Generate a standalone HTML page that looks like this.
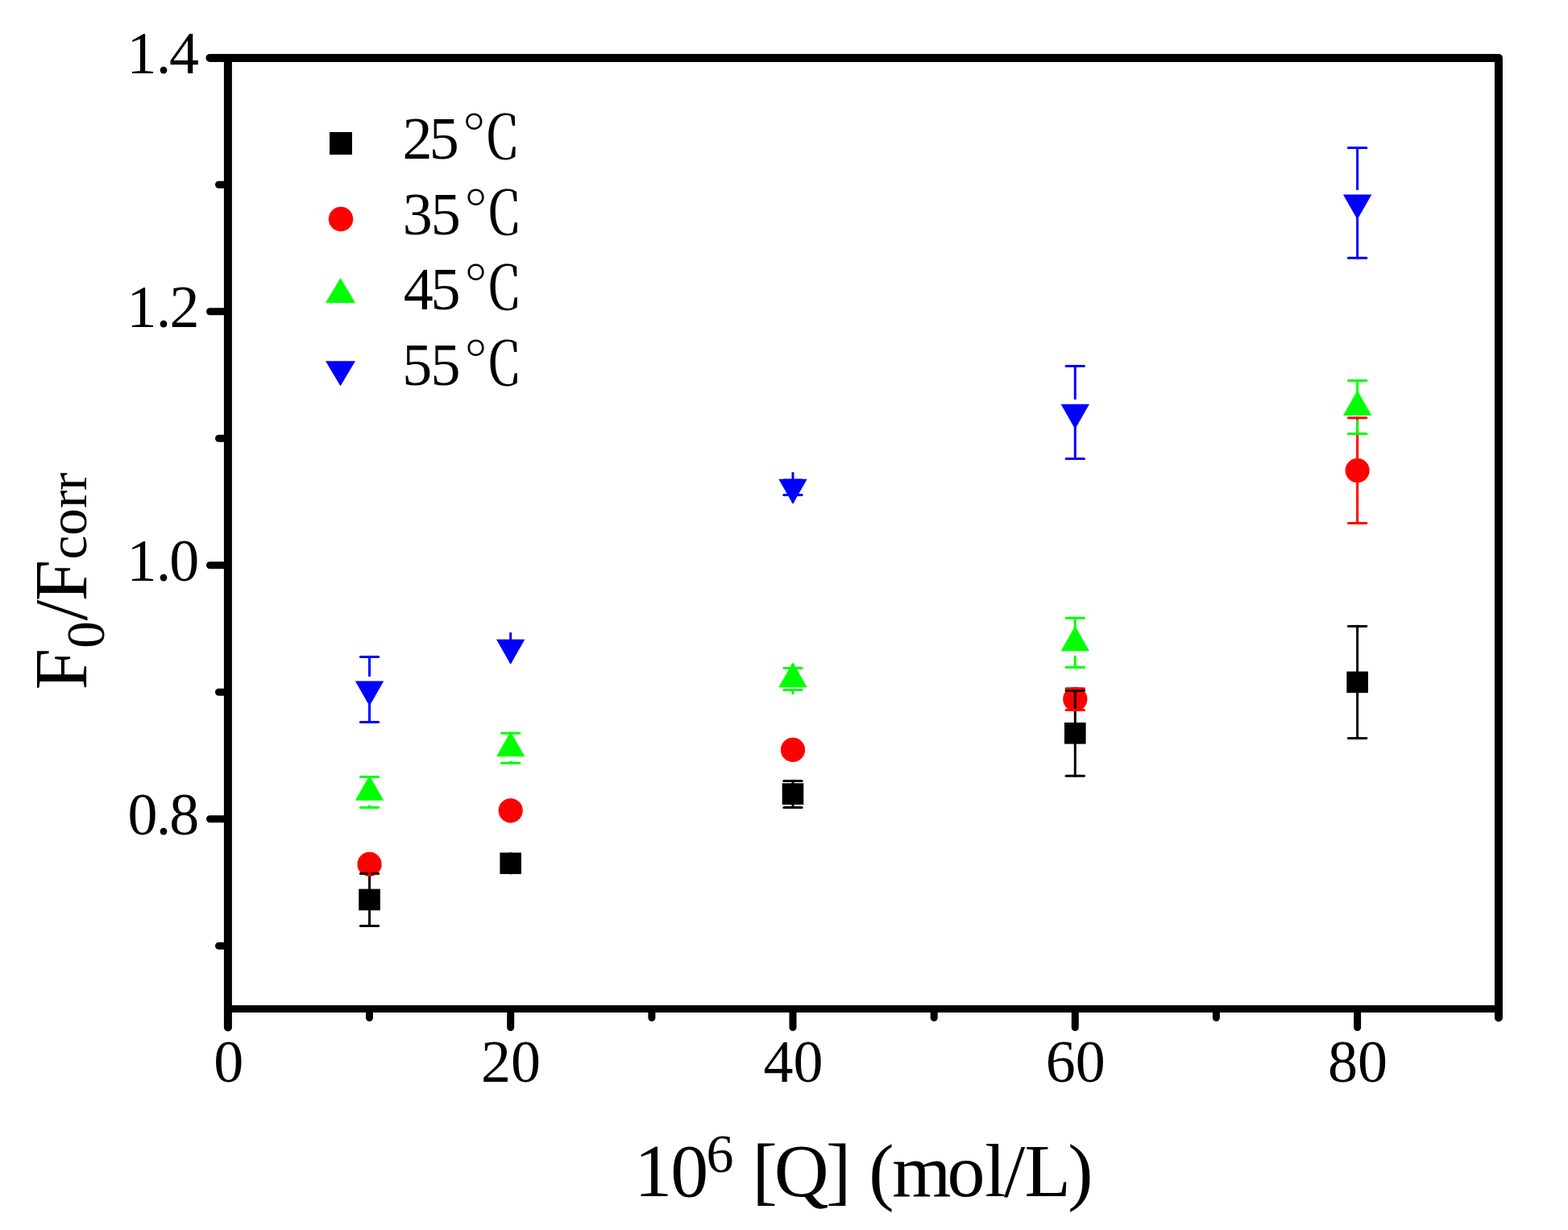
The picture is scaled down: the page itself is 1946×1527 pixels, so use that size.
<!DOCTYPE html><html><head><meta charset="utf-8"><title>F0/Fcorr vs [Q]</title><style>html,body{margin:0;padding:0;background:#fff;overflow:hidden;}svg{display:block;}</style></head><body>
<svg width="1946" height="1527" viewBox="0 0 1946 1527">
<rect x="0" y="0" width="1946" height="1527" fill="#fff"/>
<g stroke="#000" fill="none" stroke-linecap="round" stroke-linejoin="round">
<path d="M260.5 71.9 L1859.9 71.9 L1859.9 1263.5" stroke-width="10"/>
<path d="M282.9 71.9 L282.9 1275.5" stroke-width="10"/>
<line x1="282.9" y1="1252.5" x2="1859.9" y2="1252.5" stroke-width="9" stroke-linecap="butt"/>
</g>
<g stroke="#000" stroke-width="9" fill="none" stroke-linecap="round">
<line x1="278.9" y1="386.8" x2="260.5" y2="386.8"/>
<line x1="278.9" y1="701.7" x2="260.5" y2="701.7"/>
<line x1="278.9" y1="1016.7" x2="260.5" y2="1016.7"/>
<line x1="278.9" y1="229.3" x2="271.5" y2="229.3"/>
<line x1="278.9" y1="544.3" x2="271.5" y2="544.3"/>
<line x1="278.9" y1="859.2" x2="271.5" y2="859.2"/>
<line x1="278.9" y1="1174.2" x2="271.5" y2="1174.2"/>
<line x1="633.7" y1="1253.0" x2="633.7" y2="1275.5"/>
<line x1="984.0" y1="1253.0" x2="984.0" y2="1275.5"/>
<line x1="1334.3" y1="1253.0" x2="1334.3" y2="1275.5"/>
<line x1="1684.6" y1="1253.0" x2="1684.6" y2="1275.5"/>
<line x1="458.5" y1="1253.0" x2="458.5" y2="1263.5"/>
<line x1="808.9" y1="1253.0" x2="808.9" y2="1263.5"/>
<line x1="1159.2" y1="1253.0" x2="1159.2" y2="1263.5"/>
<line x1="1509.4" y1="1253.0" x2="1509.4" y2="1263.5"/>
</g>
<g font-size="74" fill="#000" font-family="'Liberation Serif', 'Times New Roman', serif">
<text x="157.5 193.8 210.1" y="91.1">1.4</text>
<text x="157.5 193.8 210.6" y="406.1">1.2</text>
<text x="157.5 193.8 210.2" y="721.0">1.0</text>
<text x="158.5 193.8 210.2" y="1036.0">0.8</text>
</g>
<g font-size="74" fill="#000" text-anchor="middle" font-family="'Liberation Serif', 'Times New Roman', serif">
<text x="283.8" y="1343.3">0</text>
<text x="634.1" y="1343.3">20</text>
<text x="984.4" y="1343.3">40</text>
<text x="1334.7" y="1343.3">60</text>
<text x="1685.0" y="1343.3">80</text>
</g>
<text y="1485" font-size="94" fill="#000" font-family="'Liberation Serif', 'Times New Roman', serif"><tspan x="787.2 832.2">10</tspan><tspan x="876.6" y="1455" font-size="68">6</tspan><tspan x="910.1 933.6 960.7 1025.0 1056.3 1078.3 1107.2 1175.4 1222.2 1246.1 1271.4 1325.3" y="1485"> [Q] (mol/L)</tspan></text>
<text transform="translate(106.9,0) rotate(-90)" y="0" font-size="93" fill="#000" font-family="'Liberation Serif', 'Times New Roman', serif"><tspan x="-856.6">F</tspan><tspan x="-804.8" y="22.3" font-size="67">0</tspan><tspan x="-770.5 -746.4" y="0">/F</tspan><tspan x="-694.5 -664.8 -631.1 -608.9" y="0" font-size="67">corr</tspan></text>
<g>
<rect x="445.25" y="1103.60" width="26.6" height="26.6" fill="#000"/>
<rect x="620.40" y="1058.50" width="26.6" height="26.6" fill="#000"/>
<rect x="970.70" y="972.30" width="26.6" height="26.6" fill="#000"/>
<rect x="1321.00" y="897.00" width="26.6" height="26.6" fill="#000"/>
<rect x="1671.30" y="833.60" width="26.6" height="26.6" fill="#000"/>
<circle cx="458.55" cy="1072.90" r="15.1" fill="#ff0000"/>
<circle cx="633.70" cy="1006.30" r="15.1" fill="#ff0000"/>
<circle cx="984.00" cy="930.90" r="15.1" fill="#ff0000"/>
<circle cx="1334.30" cy="868.00" r="15.1" fill="#ff0000"/>
<circle cx="1684.60" cy="584.10" r="15.1" fill="#ff0000"/>
<polygon points="458.55,962.83 440.85,993.83 476.25,993.83" fill="#00ff00"/>
<polygon points="633.70,908.13 616.00,939.13 651.40,939.13" fill="#00ff00"/>
<polygon points="984.00,822.33 966.30,853.33 1001.70,853.33" fill="#00ff00"/>
<polygon points="1334.30,777.23 1316.60,808.23 1352.00,808.23" fill="#00ff00"/>
<polygon points="1684.60,484.83 1666.90,515.83 1702.30,515.83" fill="#00ff00"/>
<polygon points="458.55,876.57 440.85,845.57 476.25,845.57" fill="#0000ff"/>
<polygon points="633.70,824.87 616.00,793.87 651.40,793.87" fill="#0000ff"/>
<polygon points="984.00,625.87 966.30,594.87 1001.70,594.87" fill="#0000ff"/>
<polygon points="1334.30,532.67 1316.60,501.67 1352.00,501.67" fill="#0000ff"/>
<polygon points="1684.60,272.57 1666.90,241.57 1702.30,241.57" fill="#0000ff"/>
</g>
<g stroke="#000" stroke-width="3" stroke-linecap="square" fill="none">
<line x1="458.55" y1="1084.50" x2="458.55" y2="1104.90"/>
<line x1="458.55" y1="1149.40" x2="458.55" y2="1128.90"/>
<line x1="447.35" y1="1084.50" x2="469.75" y2="1084.50" stroke-linecap="round"/>
<line x1="447.35" y1="1149.40" x2="469.75" y2="1149.40" stroke-linecap="round"/>
<line x1="633.70" y1="1071.30" x2="633.70" y2="1059.80"/>
<line x1="633.70" y1="1072.30" x2="633.70" y2="1083.80"/>
<line x1="622.50" y1="1071.30" x2="644.90" y2="1071.30" stroke-linecap="round"/>
<line x1="622.50" y1="1072.30" x2="644.90" y2="1072.30" stroke-linecap="round"/>
<line x1="984.00" y1="969.40" x2="984.00" y2="973.60"/>
<line x1="984.00" y1="1002.40" x2="984.00" y2="997.60"/>
<line x1="972.80" y1="969.40" x2="995.20" y2="969.40" stroke-linecap="round"/>
<line x1="972.80" y1="1002.40" x2="995.20" y2="1002.40" stroke-linecap="round"/>
<line x1="1334.30" y1="857.30" x2="1334.30" y2="898.30"/>
<line x1="1334.30" y1="963.30" x2="1334.30" y2="922.30"/>
<line x1="1323.10" y1="857.30" x2="1345.50" y2="857.30" stroke-linecap="round"/>
<line x1="1323.10" y1="963.30" x2="1345.50" y2="963.30" stroke-linecap="round"/>
<line x1="1684.60" y1="777.40" x2="1684.60" y2="834.90"/>
<line x1="1684.60" y1="916.40" x2="1684.60" y2="858.90"/>
<line x1="1673.40" y1="777.40" x2="1695.80" y2="777.40" stroke-linecap="round"/>
<line x1="1673.40" y1="916.40" x2="1695.80" y2="916.40" stroke-linecap="round"/>
</g>
<g stroke="#ff0000" stroke-width="3" stroke-linecap="square" fill="none">
<line x1="458.55" y1="1072.40" x2="458.55" y2="1059.40"/>
<line x1="458.55" y1="1073.40" x2="458.55" y2="1086.40"/>
<line x1="447.35" y1="1072.40" x2="469.75" y2="1072.40" stroke-linecap="round"/>
<line x1="447.35" y1="1073.40" x2="469.75" y2="1073.40" stroke-linecap="round"/>
<line x1="633.70" y1="1005.80" x2="633.70" y2="992.80"/>
<line x1="633.70" y1="1006.80" x2="633.70" y2="1019.80"/>
<line x1="622.50" y1="1005.80" x2="644.90" y2="1005.80" stroke-linecap="round"/>
<line x1="622.50" y1="1006.80" x2="644.90" y2="1006.80" stroke-linecap="round"/>
<line x1="984.00" y1="930.40" x2="984.00" y2="917.40"/>
<line x1="984.00" y1="931.40" x2="984.00" y2="944.40"/>
<line x1="972.80" y1="930.40" x2="995.20" y2="930.40" stroke-linecap="round"/>
<line x1="972.80" y1="931.40" x2="995.20" y2="931.40" stroke-linecap="round"/>
<line x1="1334.30" y1="854.70" x2="1334.30" y2="854.50"/>
<line x1="1334.30" y1="881.40" x2="1334.30" y2="881.50"/>
<line x1="1323.10" y1="854.70" x2="1345.50" y2="854.70" stroke-linecap="round"/>
<line x1="1323.10" y1="881.40" x2="1345.50" y2="881.40" stroke-linecap="round"/>
<line x1="1684.60" y1="518.70" x2="1684.60" y2="570.60"/>
<line x1="1684.60" y1="649.50" x2="1684.60" y2="597.60"/>
<line x1="1673.40" y1="518.70" x2="1695.80" y2="518.70" stroke-linecap="round"/>
<line x1="1673.40" y1="649.50" x2="1695.80" y2="649.50" stroke-linecap="round"/>
</g>
<g stroke="#00ff00" stroke-width="3" stroke-linecap="square" fill="none">
<line x1="458.55" y1="964.50" x2="458.55" y2="966.00"/>
<line x1="458.55" y1="1002.50" x2="458.55" y2="1001.00"/>
<line x1="447.35" y1="964.50" x2="469.75" y2="964.50" stroke-linecap="round"/>
<line x1="447.35" y1="1002.50" x2="469.75" y2="1002.50" stroke-linecap="round"/>
<line x1="633.70" y1="910.30" x2="633.70" y2="911.30"/>
<line x1="633.70" y1="947.30" x2="633.70" y2="946.30"/>
<line x1="622.50" y1="910.30" x2="644.90" y2="910.30" stroke-linecap="round"/>
<line x1="622.50" y1="947.30" x2="644.90" y2="947.30" stroke-linecap="round"/>
<line x1="984.00" y1="829.40" x2="984.00" y2="825.50"/>
<line x1="984.00" y1="856.50" x2="984.00" y2="860.50"/>
<line x1="972.80" y1="829.40" x2="995.20" y2="829.40" stroke-linecap="round"/>
<line x1="972.80" y1="856.50" x2="995.20" y2="856.50" stroke-linecap="round"/>
<line x1="1334.30" y1="767.30" x2="1334.30" y2="780.40"/>
<line x1="1334.30" y1="828.50" x2="1334.30" y2="815.40"/>
<line x1="1323.10" y1="767.30" x2="1345.50" y2="767.30" stroke-linecap="round"/>
<line x1="1323.10" y1="828.50" x2="1345.50" y2="828.50" stroke-linecap="round"/>
<line x1="1684.60" y1="472.40" x2="1684.60" y2="488.00"/>
<line x1="1684.60" y1="538.50" x2="1684.60" y2="523.00"/>
<line x1="1673.40" y1="472.40" x2="1695.80" y2="472.40" stroke-linecap="round"/>
<line x1="1673.40" y1="538.50" x2="1695.80" y2="538.50" stroke-linecap="round"/>
</g>
<g stroke="#0000ff" stroke-width="3" stroke-linecap="square" fill="none">
<line x1="458.55" y1="815.40" x2="458.55" y2="838.40"/>
<line x1="458.55" y1="896.40" x2="458.55" y2="873.40"/>
<line x1="447.35" y1="815.40" x2="469.75" y2="815.40" stroke-linecap="round"/>
<line x1="447.35" y1="896.40" x2="469.75" y2="896.40" stroke-linecap="round"/>
<line x1="633.70" y1="801.70" x2="633.70" y2="786.70"/>
<line x1="633.70" y1="801.70" x2="633.70" y2="821.70"/>
<line x1="622.50" y1="801.70" x2="644.90" y2="801.70" stroke-linecap="round"/>
<line x1="622.50" y1="801.70" x2="644.90" y2="801.70" stroke-linecap="round"/>
<line x1="984.00" y1="595.90" x2="984.00" y2="587.70"/>
<line x1="984.00" y1="614.50" x2="984.00" y2="622.70"/>
<line x1="972.80" y1="595.90" x2="995.20" y2="595.90" stroke-linecap="round"/>
<line x1="972.80" y1="614.50" x2="995.20" y2="614.50" stroke-linecap="round"/>
<line x1="1334.30" y1="454.50" x2="1334.30" y2="494.50"/>
<line x1="1334.30" y1="569.40" x2="1334.30" y2="529.50"/>
<line x1="1323.10" y1="454.50" x2="1345.50" y2="454.50" stroke-linecap="round"/>
<line x1="1323.10" y1="569.40" x2="1345.50" y2="569.40" stroke-linecap="round"/>
<line x1="1684.60" y1="183.50" x2="1684.60" y2="234.40"/>
<line x1="1684.60" y1="320.30" x2="1684.60" y2="269.40"/>
<line x1="1673.40" y1="183.50" x2="1695.80" y2="183.50" stroke-linecap="round"/>
<line x1="1673.40" y1="320.30" x2="1695.80" y2="320.30" stroke-linecap="round"/>
</g>
<rect x="409.00" y="164.00" width="28" height="28" fill="#000"/>
<circle cx="423.00" cy="272.00" r="15.2" fill="#ff0000"/>
<polygon points="422.50,344.93 404.00,375.93 441.00,375.93" fill="#00ff00"/>
<polygon points="422.50,479.17 404.00,448.17 441.00,448.17" fill="#0000ff"/>
<g font-size="74" fill="#000" font-family="'Liberation Serif', 'Times New Roman', 'Noto Serif CJK SC', serif">
<text x="499.4 532.8 572.8" y="197.0">25℃</text>
<text x="499.7 534.8 574.9" y="291.0">35℃</text>
<text x="500.8 534.5 574.9" y="384.3">45℃</text>
<text x="499.3 534.5 574.9" y="477.6">55℃</text>
</g>
</svg></body></html>
